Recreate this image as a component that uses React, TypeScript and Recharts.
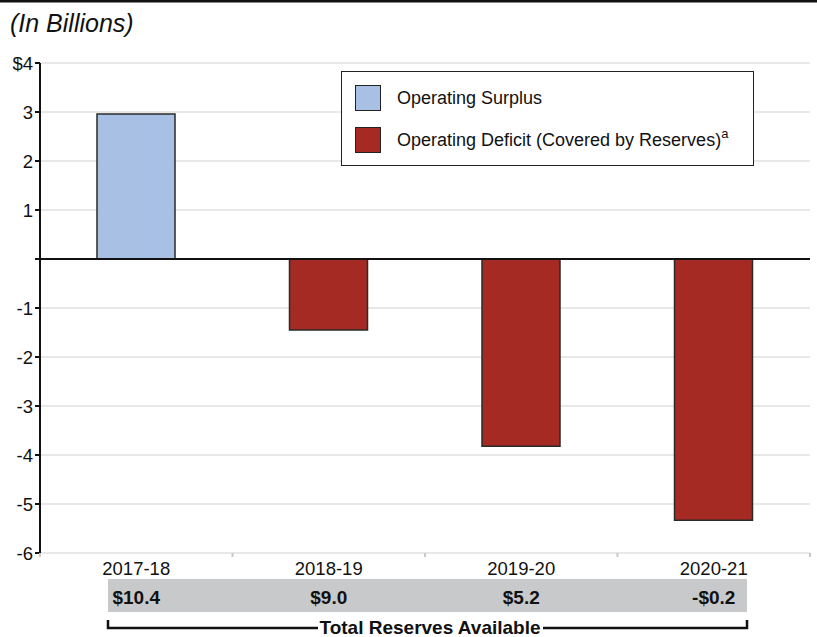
import { BarChart, Bar, XAxis, YAxis, CartesianGrid, ReferenceLine } from 'recharts'

const categories = ['2017-18', '2018-19', '2019-20', '2020-21']
const surplus = [2.96, null, null, null]
const deficit = [null, -1.45, -3.82, -5.33]
const reserves = ['$10.4', '$9.0', '$5.2', '-$0.2']
const yTicks = [4, 3, 2, 1, 0, -1, -2, -3, -4, -5, -6]

const FONT = '"Liberation Sans", Arial, Helvetica, sans-serif'
const SURPLUS = '#a7c0e4'
const DEFICIT = '#a42a23'

const W = 817
const H = 637
const PLOT_LEFT = 40
const PLOT_RIGHT = 810
const BAND = (PLOT_RIGHT - PLOT_LEFT) / categories.length

const data = categories.map((c, i) => ({
  year: c,
  surplus: surplus[i],
  deficit: deficit[i],
}))

function YearTick(props: any) {
  const { x, y, payload, index } = props
  const left = x - BAND / 2
  return (
    <g>
      <line x1={left} x2={left} y1={y} y2={y + 4} stroke="#c8c8c8" strokeWidth={2} />
      {index === categories.length - 1 && (
        <line x1={x + BAND / 2} x2={x + BAND / 2} y1={y} y2={y + 4} stroke="#c8c8c8" strokeWidth={2} />
      )}
      <text x={x} y={y + 22} textAnchor="middle" fontSize={18.5} fill="#111" fontFamily={FONT}>
        {payload.value}
      </text>
    </g>
  )
}

function ReserveTick(props: any) {
  const { x, y, index } = props
  return (
    <text x={x} y={y + 25} textAnchor="middle" fontSize={19} fontWeight="bold" fill="#111" fontFamily={FONT}>
      {reserves[index]}
    </text>
  )
}

function LegendBox() {
  const items = [
    { color: SURPLUS, label: 'Operating Surplus', sup: '' },
    { color: DEFICIT, label: 'Operating Deficit (Covered by Reserves)', sup: 'a' },
  ]
  return (
    <div
      style={{
        position: 'absolute',
        left: 341,
        top: 71,
        width: 411,
        height: 93,
        border: '1.5px solid #222',
        background: '#fff',
        fontFamily: FONT,
        fontSize: 18,
        color: '#111',
        zIndex: 2,
      }}
    >
      {items.map((it, i) => (
        <div key={it.label} style={{ position: 'absolute', left: 13, top: 13 + i * 42, display: 'flex', alignItems: 'center' }}>
          <div style={{ width: 24, height: 24, background: it.color, border: '1.5px solid #222' }} />
          <span style={{ marginLeft: 16, lineHeight: '26px', whiteSpace: 'nowrap' }}>
            {it.label}
            {it.sup && <sup style={{ fontSize: 13, verticalAlign: 'top', position: 'relative', top: -6 }}>{it.sup}</sup>}
          </span>
        </div>
      ))}
    </div>
  )
}

export default function App() {
  return (
    <div style={{ position: 'absolute', left: 0, top: 0, width: W, height: H, background: '#fff', overflow: 'hidden' }}>
      <svg width={W} height={H} style={{ position: 'absolute', left: 0, top: 0, zIndex: 0 }}>
        <rect x={0} y={0} width={W} height={2.5} fill="#111" />
        <text x={10} y={32} fontSize={25} fontStyle="italic" fill="#111" fontFamily={FONT}>
          (In Billions)
        </text>
        <rect x={108} y={579} width={639} height={33} fill="#c8c9cb" />
        <path d="M108 620 V628 H318 M543 628 H747 V620" fill="none" stroke="#111" strokeWidth={2.5} />
        <text x={430} y={634} textAnchor="middle" fontSize={19} fontWeight="bold" fill="#111" fontFamily={FONT}>
          Total Reserves Available
        </text>
      </svg>
      <div style={{ position: 'absolute', left: 0, top: 0, zIndex: 1 }}>
        <BarChart width={W} height={H} data={data} margin={{ top: 63, right: W - PLOT_RIGHT, left: 0, bottom: 0 }} barSize={78}>
          <CartesianGrid horizontal vertical={false} stroke="#d2d2d2" strokeWidth={1.2} />
          <XAxis
            dataKey="year"
            height={26}
            axisLine={false}
            tickLine={false}
            tickSize={0}
            tickMargin={0}
            interval={0}
            tick={<YearTick />}
          />
          <XAxis
            xAxisId="res"
            dataKey="year"
            height={58}
            axisLine={false}
            tickLine={false}
            tickSize={0}
            tickMargin={0}
            interval={0}
            tick={<ReserveTick />}
          />
          <YAxis
            width={PLOT_LEFT}
            domain={[-6, 4]}
            ticks={yTicks}
            interval={0}
            axisLine={{ stroke: '#111', strokeWidth: 2 }}
            tickLine={{ stroke: '#111', strokeWidth: 2 }}
            tickSize={5}
            tickMargin={2}
            tick={{ fontSize: 18.5, fill: '#111', fontFamily: FONT }}
            tickFormatter={(v: number) => (v === 4 ? '$4' : v === 0 ? '' : String(v))}
          />
          <Bar dataKey="surplus" stackId="a" fill={SURPLUS} stroke="#2a2a2a" strokeWidth={1.5} isAnimationActive={false} />
          <Bar dataKey="deficit" stackId="a" fill={DEFICIT} stroke="#2a2a2a" strokeWidth={1.5} isAnimationActive={false} />
          <ReferenceLine y={0} stroke="#111" strokeWidth={2} />
        </BarChart>
      </div>
      <LegendBox />
    </div>
  )
}
